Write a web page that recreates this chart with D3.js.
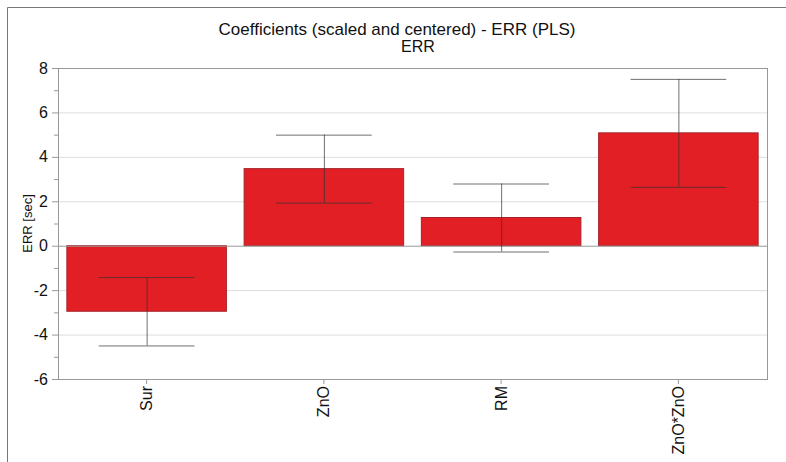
<!DOCTYPE html>
<html>
<head>
<meta charset="utf-8">
<script src="https://cdn.jsdelivr.net/npm/d3@7"></script>
<style>
  body { margin: 0; background: #fff; }
  text { font-family: "Liberation Sans", Arial, sans-serif; fill: #111; }
</style>
</head>
<body>
<svg id="chart" width="786" height="462"></svg>
<script>
// chart data
const categories = ['Sur', 'ZnO', 'RM', 'ZnO*ZnO'];
const coefficients = [-2.95, 3.47, 1.27, 5.08];
const errHalf = [1.54, 1.53, 1.53, 2.43];
const yTicks = [-6, -4, -2, 0, 2, 4, 6, 8];
const yMinorTicks = [-5, -3, -1, 1, 3, 5, 7];

const svg = d3.select('#chart'),
  margin = {top: 68, right: 19, bottom: 83, left: 58},
  width = +svg.attr('width') - margin.left - margin.right,
  height = +svg.attr('height') - margin.top - margin.bottom;

// outer frame (top and left edges only)
svg.append('path')
  .attr('d', 'M7.5,462 V7.5 H786')
  .attr('fill', 'none')
  .attr('stroke', '#777')
  .attr('stroke-width', 1);

// title
svg.append('text')
  .attr('x', 397).attr('y', 35)
  .attr('text-anchor', 'middle')
  .style('font-size', '17px')
  .text('Coefficients (scaled and centered) - ERR (PLS)');
svg.append('text')
  .attr('x', 418).attr('y', 52)
  .attr('text-anchor', 'middle')
  .style('font-size', '16px')
  .text('ERR');

const x = d3.scaleBand().domain(categories).range([0, width]).paddingInner(0.1).paddingOuter(0.05),
  y = d3.scaleLinear().domain([-6, 8]).range([height, 0]);

const g = svg.append('g')
  .attr('transform', 'translate(' + margin.left + ',' + margin.top + ')');

// grid lines
g.selectAll('.grid')
  .data(yTicks.filter(function (d) { return d !== -6 && d !== 8 && d !== 0; }))
  .enter().append('line')
  .attr('x1', 0).attr('x2', width)
  .attr('y1', function (d) { return y(d) + 0.5; })
  .attr('y2', function (d) { return y(d) + 0.5; })
  .attr('stroke', '#ddd');

// plot frame
g.append('rect')
  .attr('x', 0.5).attr('y', 0.5)
  .attr('width', width).attr('height', height)
  .attr('fill', 'none')
  .attr('stroke', '#999');

// bars
g.selectAll('.bar')
  .data(categories)
  .enter().append('rect')
  .attr('class', 'bar')
  .attr('x', function (d) { return x(d); })
  .attr('y', function (d, i) { return y(Math.max(0, coefficients[i])); })
  .attr('width', x.bandwidth())
  .attr('height', function (d, i) { return Math.abs(y(coefficients[i]) - y(0)); })
  .attr('fill', '#e31f26')
  .attr('stroke', '#a52328')
  .attr('stroke-width', 1);

// zero line
g.append('line')
  .attr('x1', 0).attr('x2', width)
  .attr('y1', y(0) + 0.5).attr('y2', y(0) + 0.5)
  .attr('stroke', '#999');

// error bars
const capW = x.bandwidth() * 0.6;
const eb = g.selectAll('.err')
  .data(categories)
  .enter().append('g')
  .attr('class', 'err')
  .attr('stroke', '#333')
  .attr('stroke-opacity', 0.7);
eb.append('line')
  .attr('x1', function (d) { return x(d) + x.bandwidth() / 2 + 0.5; })
  .attr('x2', function (d) { return x(d) + x.bandwidth() / 2 + 0.5; })
  .attr('y1', function (d, i) { return y(coefficients[i] + errHalf[i]); })
  .attr('y2', function (d, i) { return y(coefficients[i] - errHalf[i]); });
eb.selectAll('.cap')
  .data(function (d) {
    const i = categories.indexOf(d);
    return [[d, coefficients[i] + errHalf[i]], [d, coefficients[i] - errHalf[i]]];
  })
  .enter().append('line')
  .attr('x1', function (d) { return x(d[0]) + x.bandwidth() / 2 - capW / 2; })
  .attr('x2', function (d) { return x(d[0]) + x.bandwidth() / 2 + capW / 2; })
  .attr('y1', function (d) { return y(d[1]) + 0.5; })
  .attr('y2', function (d) { return y(d[1]) + 0.5; });

// y axis (plain hyphen for negatives, as in the original)
const yAxis = g.append('g')
  .call(d3.axisLeft(y).tickValues(yTicks).tickFormat(function (d) { return String(d); }).tickSize(6).tickPadding(4));
yAxis.select('.domain').attr('stroke', '#999');
yAxis.selectAll('.tick line').attr('stroke', '#999');
yAxis.selectAll('.tick text').style('font-size', '16px').attr('fill', '#111');
g.append('g')
  .call(d3.axisLeft(y).tickValues(yMinorTicks).tickFormat('').tickSize(4))
  .call(function (a) { a.select('.domain').remove(); })
  .selectAll('.tick line').attr('stroke', '#999');

// x axis
const xAxis = g.append('g')
  .attr('transform', 'translate(0,' + height + ')')
  .call(d3.axisBottom(x).tickSize(5).tickSizeOuter(0));
xAxis.select('.domain').remove();
xAxis.selectAll('.tick line').attr('stroke', '#999');
xAxis.selectAll('.tick text')
  .style('font-size', '16px')
  .attr('fill', '#111')
  .attr('transform', 'rotate(-90)')
  .attr('text-anchor', 'end')
  .attr('x', -7)
  .attr('y', 0)
  .attr('dy', '0.35em');

// y axis label
svg.append('text')
  .attr('transform', 'translate(32,' + (margin.top + y(1.0)) + ') rotate(-90)')
  .attr('text-anchor', 'middle')
  .style('font-size', '13px')
  .text('ERR [sec]');
</script>
</body>
</html>
